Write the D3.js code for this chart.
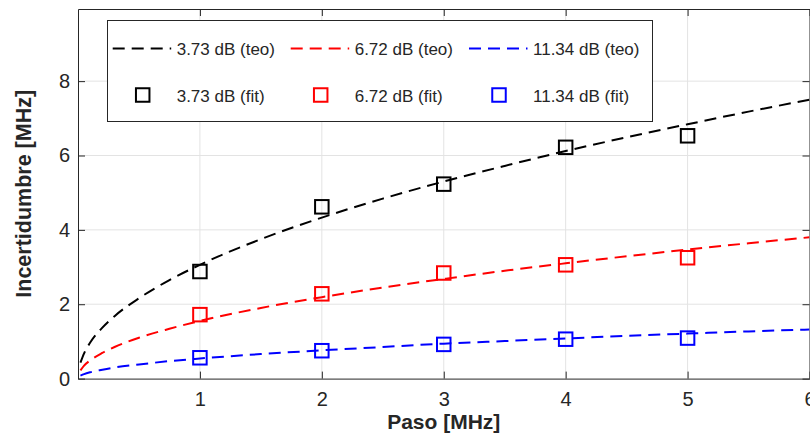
<!DOCTYPE html>
<html>
<head>
<meta charset="utf-8">
<script src="https://cdn.jsdelivr.net/npm/d3@7"></script>
<style>
  body { margin: 0; background: #fff; }
  svg { display: block; }
  text { font-family: "Liberation Sans", Arial, Helvetica, sans-serif; fill: #262626; }
</style>
</head>
<body>
<svg id="chart" width="810" height="440"></svg>
<script>
// Tick labels
const xTicks = [1, 2, 3, 4, 5, 6];
const yTicks = [0, 2, 4, 6, 8];

// Measured (fit) points
const pasoFit = [1, 2, 3, 4, 5];
const fitBlack = [2.88, 4.62, 5.23, 6.22, 6.53];
const fitRed   = [1.72, 2.28, 2.84, 3.06, 3.25];
const fitBlue  = [0.56, 0.75, 0.92, 1.06, 1.09];

// Theoretical curves, sampled along the step axis
const pasoTeo  = [0.02, 0.05, 0.1, 0.2, 0.3, 0.5, 0.75, 1, 1.5, 2, 2.5, 3, 3.5, 4, 4.5, 5, 5.5, 6];
const teoBlack = [0.43, 0.68, 0.97, 1.37, 1.68, 2.16, 2.65, 3.06, 3.75, 4.33, 4.84, 5.30, 5.72, 6.12, 6.49, 6.84, 7.18, 7.50];
const teoRed   = [0.22, 0.35, 0.49, 0.69, 0.85, 1.10, 1.34, 1.55, 1.90, 2.19, 2.45, 2.68, 2.90, 3.10, 3.29, 3.47, 3.64, 3.80];
const teoBlue  = [0.08, 0.12, 0.17, 0.24, 0.30, 0.38, 0.47, 0.54, 0.66, 0.76, 0.85, 0.94, 1.01, 1.08, 1.15, 1.21, 1.27, 1.32];

const seriesNames = ["3.73 dB", "6.72 dB", "11.34 dB"];
const seriesColors = ["#000000", "#ff0000", "#0000ff"];

const series = seriesNames.map((name, i) => ({
  name,
  color: seriesColors[i],
  teo: pasoTeo.map((p, j) => ({ x: p, y: [teoBlack, teoRed, teoBlue][i][j] })),
  fit: pasoFit.map((p, j) => ({ x: p, y: [fitBlack, fitRed, fitBlue][i][j] }))
}));

const svg = d3.select("#chart");
const L = 78, R = 809.5, T = 9, B = 378.6;

const x = d3.scaleLinear().domain([0, 6]).range([L, R]);
const y = d3.scaleLinear().domain([0, 9.94]).range([B, T]);

const axisColor = "#262626";
const gridColor = "#e3e3e3";

// grid
const grid = svg.append("g");
grid.selectAll(".gx").data(xTicks.filter(t => t < 6)).join("line")
  .attr("x1", d => x(d)).attr("x2", d => x(d)).attr("y1", T).attr("y2", B)
  .attr("stroke", gridColor).attr("stroke-width", 1);
grid.selectAll(".gy").data(yTicks.filter(t => t > 0)).join("line")
  .attr("x1", L).attr("x2", R).attr("y1", d => y(d)).attr("y2", d => y(d))
  .attr("stroke", gridColor).attr("stroke-width", 1);

// axes with inward ticks
const tickLen = 7;
const xAxis = svg.append("g").attr("transform", `translate(0,${B})`)
  .call(d3.axisBottom(x).tickValues(xTicks).tickSizeInner(-tickLen).tickSizeOuter(0).tickPadding(tickLen + 6).tickFormat(d3.format("d")));
const yAxis = svg.append("g").attr("transform", `translate(${L},0)`)
  .call(d3.axisLeft(y).tickValues(yTicks).tickSizeInner(-tickLen).tickSizeOuter(0).tickPadding(8).tickFormat(d3.format("d")));
const xTop = svg.append("g").attr("transform", `translate(0,${T})`)
  .call(d3.axisTop(x).tickValues(xTicks).tickSizeInner(-tickLen).tickSizeOuter(0).tickFormat(""));
const yRight = svg.append("g").attr("transform", `translate(${R},0)`)
  .call(d3.axisRight(y).tickValues(yTicks).tickSizeInner(-tickLen).tickSizeOuter(0).tickFormat(""));

[xAxis, yAxis, xTop, yRight].forEach(g => {
  g.select(".domain").attr("stroke", axisColor).attr("stroke-width", 1);
  g.selectAll(".tick line").attr("stroke", axisColor);
  g.selectAll(".tick text").attr("fill", axisColor).style("font-size", "20px")
    .style("font-family", '"Liberation Sans", Arial, Helvetica, sans-serif');
});
xAxis.selectAll(".tick text").attr("dy", "0.71em");

// axis titles
svg.append("text")
  .attr("x", (L + R) / 2).attr("y", 429)
  .attr("text-anchor", "middle")
  .style("font-size", "21px").style("font-weight", "bold")
  .text("Paso [MHz]");
svg.append("text")
  .attr("transform", `translate(30.5,${(T + B) / 2}) rotate(-90)`)
  .attr("text-anchor", "middle")
  .style("font-size", "21.5px").style("font-weight", "bold")
  .text("Incertidumbre [MHz]");

// clip for data
svg.append("clipPath").attr("id", "plotClip")
  .append("rect").attr("x", L).attr("y", T).attr("width", R - L).attr("height", B - T);

const plot = svg.append("g").attr("clip-path", "url(#plotClip)");
const line = d3.line().x(d => x(d.x)).y(d => y(d.y)).curve(d3.curveMonotoneX);
const dash = "12,7";
const markerSide = 13.5;

series.forEach(s => {
  plot.append("path")
    .datum([{ x: 0, y: 0 }].slice(0, 0).concat(s.teo))
    .attr("d", line)
    .attr("fill", "none")
    .attr("stroke", s.color)
    .attr("stroke-width", 2)
    .attr("stroke-dasharray", dash);
});
series.forEach(s => {
  plot.selectAll(null).data(s.fit).join("rect")
    .attr("x", d => x(d.x) - markerSide / 2)
    .attr("y", d => y(d.y) - markerSide / 2)
    .attr("width", markerSide).attr("height", markerSide)
    .attr("fill", "none")
    .attr("stroke", s.color)
    .attr("stroke-width", 2);
});

// legend
const leg = svg.append("g");
leg.append("rect")
  .attr("x", 107.5).attr("y", 20.5).attr("width", 545).attr("height", 101)
  .attr("fill", "#fff").attr("stroke", axisColor).attr("stroke-width", 1);

const colX = [112.7, 290.7, 469];
const row1 = 48.5, row2 = 95;
series.forEach((s, i) => {
  const x0 = colX[i];
  leg.append("line")
    .attr("x1", x0).attr("x2", x0 + 58.5).attr("y1", row1).attr("y2", row1)
    .attr("stroke", s.color).attr("stroke-width", 2).attr("stroke-dasharray", dash);
  leg.append("text")
    .attr("x", x0 + 64).attr("y", row1 + 6.3)
    .style("font-size", "17px")
    .text(`${s.name} (teo)`);
  leg.append("rect")
    .attr("x", x0 + 30 - markerSide / 2).attr("y", row2 - markerSide / 2)
    .attr("width", markerSide).attr("height", markerSide)
    .attr("fill", "none").attr("stroke", s.color).attr("stroke-width", 2);
  leg.append("text")
    .attr("x", x0 + 64).attr("y", row2 + 6.5)
    .style("font-size", "17px")
    .text(`${s.name} (fit)`);
});
</script>
</body>
</html>
